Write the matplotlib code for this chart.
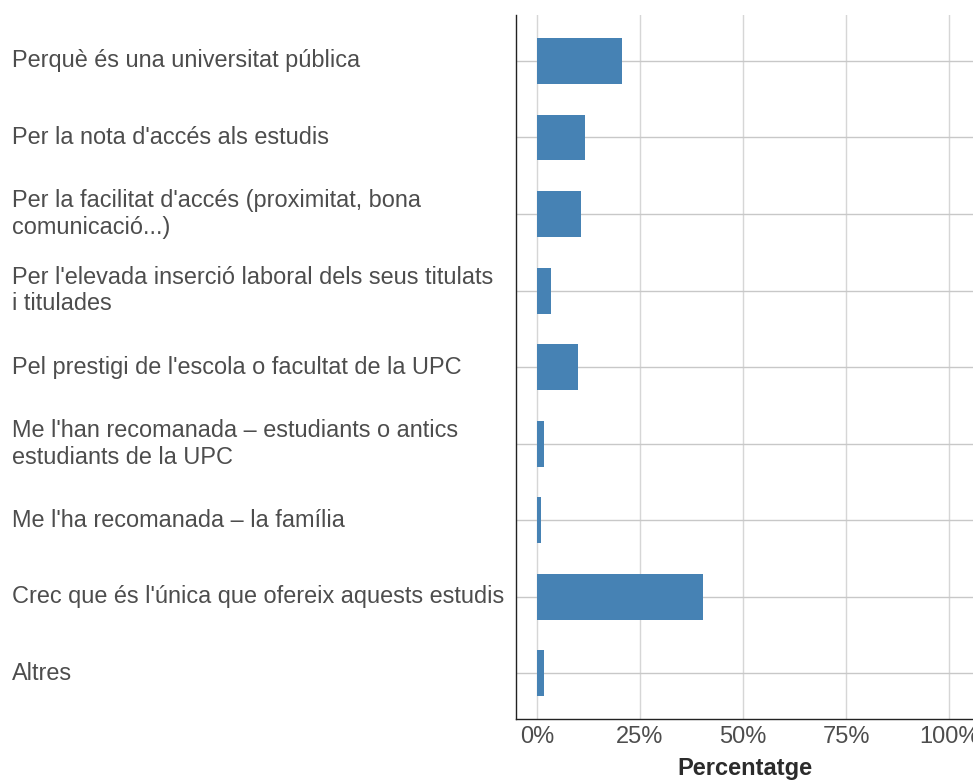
import matplotlib
matplotlib.use("Agg")
import matplotlib.pyplot as plt
import matplotlib.transforms as mtransforms
from matplotlib.ticker import FuncFormatter

plt.rcParams["font.family"] = ["Liberation Sans", "DejaVu Sans"]

# Data
categories = [
    "Perquè és una universitat pública",
    "Per la nota d'accés als estudis",
    "Per la facilitat d'accés (proximitat, bona\ncomunicació...)",
    "Per l'elevada inserció laboral dels seus titulats\ni titulades",
    "Pel prestigi de l'escola o facultat de la UPC",
    "Me l'han recomanada – estudiants o antics\nestudiants de la UPC",
    "Me l'ha recomanada – la família",
    "Crec que és l'única que ofereix aquests estudis",
    "Altres",
]
percentages = [20.6, 11.6, 10.7, 3.4, 10.0, 1.7, 1.0, 40.3, 1.7]
x_ticks = [0, 25, 50, 75, 100]

BAR_COLOR = "#4682B4"
TEXT_COLOR = "#4d4d4d"

fig = plt.figure(figsize=(9.73, 7.8), dpi=100)
ax = fig.add_axes([516.3 / 973, 1 - 719.3 / 780, 1 - 516.3 / 973, (719.3 - 15) / 780])

ypos = list(range(len(categories)))
ax.barh(ypos, percentages, height=0.6, color=BAR_COLOR, zorder=3)

ax.set_xlim(-5.0, 105.8)
ax.set_ylim(len(categories) - 0.4, -0.6)

ax.set_xticks(x_ticks)
ax.xaxis.set_major_formatter(FuncFormatter(lambda v, _: f"{v:.0f}%"))
ax.tick_params(axis="x", length=0, pad=5, labelsize=17, labelcolor=TEXT_COLOR)
ax.set_yticks(ypos)
ax.set_yticklabels([])
ax.tick_params(axis="y", length=0)

ax.xaxis.grid(True, color="#d6d6d6", linewidth=1.0, zorder=0)
ax.yaxis.grid(True, color="#c8c8c8", linewidth=1.0, zorder=0)
ax.set_axisbelow(True)

for side in ["top", "right"]:
    ax.spines[side].set_visible(False)
for side in ["left", "bottom"]:
    ax.spines[side].set_color("#222222")
    ax.spines[side].set_linewidth(1.0)

ax.set_xlabel("Percentatge", fontsize=17, fontweight="bold", color="#2b2b2b", labelpad=6)

# category labels, left-aligned at the figure's left margin
trans = mtransforms.blended_transform_factory(fig.transFigure, ax.transData)
for y, label in zip(ypos, categories):
    fig.text(12 / 973, y, label, transform=trans, ha="left", va="center",
             fontsize=16.9, color=TEXT_COLOR, linespacing=1.2)

plt.savefig("out.png", dpi=100)
plt.close()
